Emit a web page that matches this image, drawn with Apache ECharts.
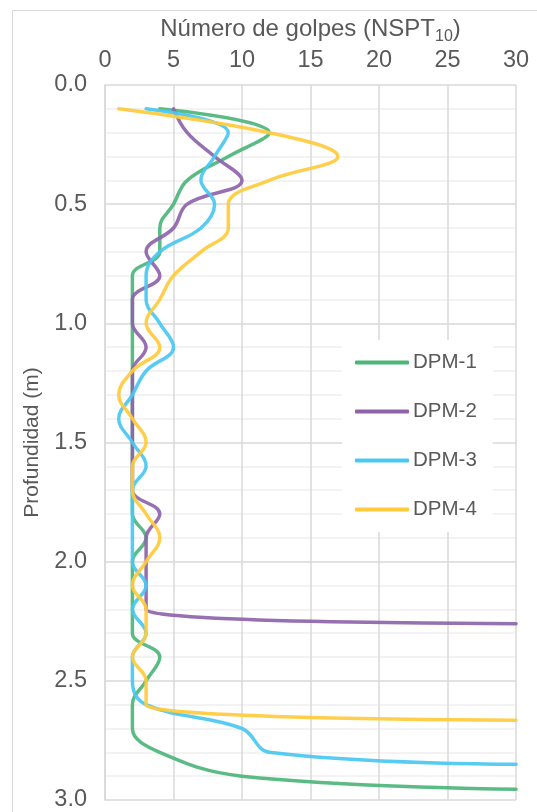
<!DOCTYPE html>
<html><head><meta charset="utf-8">
<script src="https://cdn.jsdelivr.net/npm/echarts@6/dist/echarts.min.js"></script>
<style>html,body{margin:0;padding:0;background:#fff}#c{width:537px;height:812px}</style>
</head><body><div id="c"></div>
<script>
const seriesNames = ['DPM-1', 'DPM-2', 'DPM-3', 'DPM-4'];
const depths = [0.1,0.2,0.3,0.4,0.5,0.6,0.7,0.8,0.9,1.0,1.1,1.2,1.3,1.4,1.5,1.6,1.7,1.8,1.9,2.0,2.1,2.2,2.3,2.4,2.5,2.6,2.7,2.8,2.9];
const dpm1 = [4,12,9,6,5,4,4,2,2,2, 2,2,2,2,2,2,2,2,3,2, 2,2,2,4,3,2,2,4,10];
const dpm2 = [5,6,8,10,6,5,3,4,2,2, 3,2,2,2,2,2,2,4,3,3, 3,3];
const dpm3 = [3,9,8,7,8,7,4,3,3,4, 5,3,2,1,2,3,2,2,2,2, 3,2,3,2,2,3,10,12];
const dpm4 = [1,12,17,12,9,9,7,5,4,3, 4,2,1,2,3,2,2,3,4,3, 2,3,3,2,3,3];
const refusalDepths = [2.955, 2.26, 2.85, 2.665];
const refusalBlows = [30, 30, 30, 30];
const xTicks = [0, 5, 10, 15, 20, 25, 30];
const yTicks = ['0.0', '0.5', '1.0', '1.5', '2.0', '2.5', '3.0'];
const colors = ['#4cb679', '#8d64aa', '#4ac7f2', '#ffcb3c'];

const allBlows = [dpm1, dpm2, dpm3, dpm4];
const series = seriesNames.map((name, i) => {
  const pts = allBlows[i].map((v, k) => [v, depths[k]]);
  pts.push([refusalBlows[i], refusalDepths[i]]);
  return {
    name, type: 'line', data: pts, smooth: 0.4, showSymbol: false, symbol: 'none',
    lineStyle: { width: 3.5, color: colors[i], opacity: 0.92, cap: 'round', join: 'round' },
    itemStyle: { color: colors[i] }, z: 3 + i, clip: true
  };
});

const font = 'Liberation Sans, Arial, sans-serif';
const chart = echarts.init(document.getElementById('c'), null, { renderer: 'canvas' });
chart.setOption({
  animation: false,
  backgroundColor: '#fff',
  color: colors,
  grid: { left: 105, right: 21, top: 85, bottom: 9, containLabel: false },
  graphic: [{ type: 'rect', shape: { x: 12.5, y: 10.5, width: 600, height: 900 }, style: { fill: 'none', stroke: '#d9d9d9', lineWidth: 1 }, silent: true }],
  xAxis: {
    type: 'value', position: 'top', min: xTicks[0], max: xTicks[xTicks.length - 1], interval: 5,
    name: '{a|Número de golpes (NSPT}{s|10}{a|)}', nameLocation: 'middle', nameGap: 31,
    nameTextStyle: { rich: { a: { fontSize: 24, color: '#595959', fontFamily: font }, s: { fontSize: 16, color: '#595959', fontFamily: font, padding: [13, 0, 0, 0] } } },
    axisLine: { show: false }, axisTick: { show: false },
    axisLabel: { color: '#595959', fontSize: 23.5, fontFamily: font, margin: 12 },
    splitLine: { show: true, lineStyle: { color: '#d9d9d9', width: 1.5 } }
  },
  yAxis: {
    type: 'value', inverse: true, min: 0, max: 3, interval: 0.5,
    name: 'Profundidad (m)', nameLocation: 'middle', nameGap: 62,
    nameTextStyle: { fontSize: 21, color: '#595959', fontFamily: font },
    axisLine: { show: true, lineStyle: { color: '#d9d9d9', width: 1.5 } }, axisTick: { show: false },
    axisLabel: { color: '#595959', fontSize: 23.5, fontFamily: font, margin: 18, verticalAlign: 'middle', padding: [4, 0, 0, 0], formatter: v => yTicks[Math.round(v / 0.5)] },
    splitLine: { show: true, lineStyle: { color: '#d9d9d9', width: 1.5 } },
    minorTick: { show: false, splitNumber: 5 },
    minorSplitLine: { show: true, lineStyle: { color: '#f0f0f0', width: 1.5 } }
  },
  legend: {
    orient: 'vertical', left: 342, top: 340, backgroundColor: '#fff',
    padding: [12, 16, 12, 13], itemGap: 28, itemWidth: 54, itemHeight: 4,
    icon: 'roundRect',
    textStyle: { color: '#595959', fontSize: 20.5, fontFamily: font, padding: [0, 0, 0, -1] },
    data: seriesNames
  },
  series
});
</script></body></html>
